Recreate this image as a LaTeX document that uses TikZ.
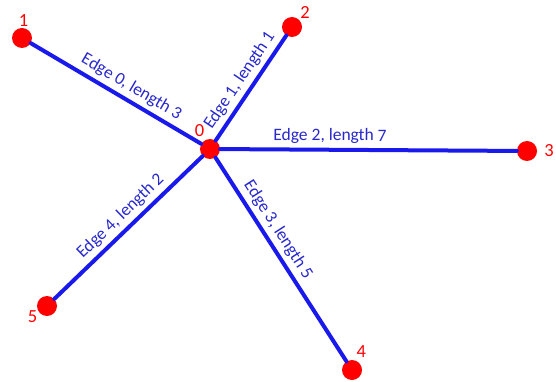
\documentclass[tikz,border=0pt]{standalone}
\usepackage{fontspec}
\setmainfont{Carlito}
\definecolor{edgeblue}{RGB}{25,25,235}
\definecolor{lblblue}{RGB}{40,40,205}
\begin{document}
\begin{tikzpicture}[x=1pt, y=-1pt, font=\fontsize{17.5}{21}\selectfont, line join=round, line cap=round,
		vtx/.style={circle, fill=red, minimum size=20pt, inner sep=0pt, label distance=1pt},
		vlbl/.style={text=red, inner sep=1pt, font=\fontsize{18.5}{22}\selectfont},
		edg/.style={draw=edgeblue, line width=4pt},
		elbl/.style={sloped, above=2pt, text=lblblue, inner sep=2pt}]
	\useasboundingbox (0,0) rectangle (556,382);
	% vertices
	\node[vtx, label={[vlbl, xshift=-1pt, yshift=2pt]110:0}] (v0) at (210,149) {};
	\node[vtx, label={[vlbl, xshift=1.5pt]90:1}] (v1) at (22,38) {};
	\node[vtx, label={[vlbl]45:2}] (v2) at (292,27) {};
	\node[vtx, label={[vlbl, xshift=6pt]0:3}] (v3) at (527,151) {};
	\node[vtx, label={[vlbl, yshift=2pt]70:4}] (v4) at (352,370) {};
	\node[vtx, label={[vlbl, yshift=1.5pt]212:5}] (v5) at (47,306) {};
	% edges
	\draw[edg] (v0)--(v1) node[elbl, pos=0.45]{Edge 0, length 3};
	\draw[edg] (v0)--(v2) node[elbl, pos=0.5]{Edge 1, length 1};
	\draw[edg] (v0)--(v3) node[elbl, pos=0.37]{Edge 2, length 7};
	\draw[edg] (v0)--(v4) node[elbl, pos=0.39]{Edge 3, length 5};
	\draw[edg] (v0)--(v5) node[elbl, pos=0.49]{Edge 4, length 2};
\end{tikzpicture}
\end{document}
